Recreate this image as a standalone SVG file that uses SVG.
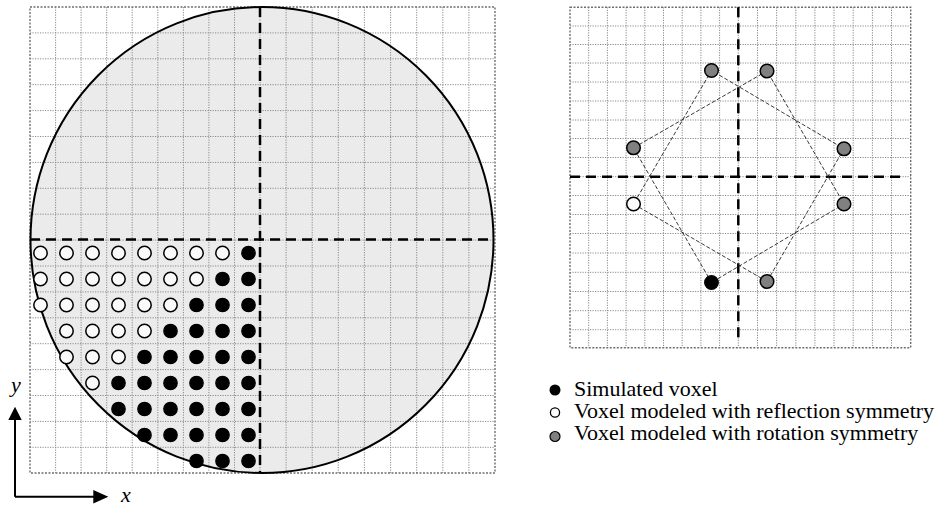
<svg xmlns="http://www.w3.org/2000/svg" width="938" height="508" viewBox="0 0 938 508">
<style>
.grid{fill:none;stroke:#8a8a8a;stroke-width:1;stroke-dasharray:1.2 1.3}
.border{fill:none;stroke:#6e6e6e;stroke-width:1.4;stroke-dasharray:2 1.5}
.axis{fill:none;stroke:#000;stroke-width:2.5;stroke-dasharray:10 6}
.sim{fill:#000;stroke:#000;stroke-width:1.3}
.ref{fill:#fafafa;stroke:#000;stroke-width:1.5}
.rot{fill:#808080;stroke:#000;stroke-width:1.5}
.link{fill:none;stroke:#222;stroke-width:0.9;stroke-dasharray:4 2}
.lbl{font-family:"Liberation Serif","Times New Roman",serif;font-size:22px;fill:#000}
.it{font-family:"Liberation Serif","Times New Roman",serif;font-size:22px;font-style:italic;fill:#000}
</style>
<defs>
<circle id="d" r="6.7"/>
<circle id="rd" r="6.8"/>
</defs>

<g id="left-panel">
<ellipse cx="262" cy="240" rx="231.5" ry="233" fill="#ebebeb"/>
<path class="grid" d="M55.6 7V473M81.1 7V473M106.7 7V473M132.2 7V473M157.8 7V473M183.4 7V473M208.9 7V473M234.5 7V473M260 7V473M286.1 7V473M312.2 7V473M338.3 7V473M364.4 7V473M390.6 7V473M416.7 7V473M442.8 7V473M468.9 7V473M30 32.9H495M30 58.8H495M30 84.7H495M30 110.6H495M30 136.5H495M30 162.4H495M30 188.3H495M30 214.2H495M30 240.1H495M30 266H495M30 291.9H495M30 317.8H495M30 343.7H495M30 369.6H495M30 395.5H495M30 421.4H495M30 447.3H495"/>
<rect class="border" x="30" y="7" width="465" height="466"/>
<ellipse cx="262" cy="240" rx="231.5" ry="233" fill="none" stroke="#000" stroke-width="2"/>
<path class="axis" d="M260 7V473M30 239.5H493"/>
</g>

<g id="left-voxels">
<g id="row0"><use href="#d" class="ref" x="40.5" y="253"/><use href="#d" class="ref" x="66.5" y="253"/><use href="#d" class="ref" x="92.5" y="253"/><use href="#d" class="ref" x="118.5" y="253"/><use href="#d" class="ref" x="144.5" y="253"/><use href="#d" class="ref" x="170.5" y="253"/><use href="#d" class="ref" x="196.5" y="253"/><use href="#d" class="ref" x="222.5" y="253"/><use href="#d" class="sim" x="248.5" y="253"/></g>
<g id="row1"><use href="#d" class="ref" x="40.5" y="279"/><use href="#d" class="ref" x="66.5" y="279"/><use href="#d" class="ref" x="92.5" y="279"/><use href="#d" class="ref" x="118.5" y="279"/><use href="#d" class="ref" x="144.5" y="279"/><use href="#d" class="ref" x="170.5" y="279"/><use href="#d" class="ref" x="196.5" y="279"/><use href="#d" class="sim" x="222.5" y="279"/><use href="#d" class="sim" x="248.5" y="279"/></g>
<g id="row2"><use href="#d" class="ref" x="40.5" y="305"/><use href="#d" class="ref" x="66.5" y="305"/><use href="#d" class="ref" x="92.5" y="305"/><use href="#d" class="ref" x="118.5" y="305"/><use href="#d" class="ref" x="144.5" y="305"/><use href="#d" class="ref" x="170.5" y="305"/><use href="#d" class="sim" x="196.5" y="305"/><use href="#d" class="sim" x="222.5" y="305"/><use href="#d" class="sim" x="248.5" y="305"/></g>
<g id="row3"><use href="#d" class="ref" x="66.5" y="331"/><use href="#d" class="ref" x="92.5" y="331"/><use href="#d" class="ref" x="118.5" y="331"/><use href="#d" class="ref" x="144.5" y="331"/><use href="#d" class="sim" x="170.5" y="331"/><use href="#d" class="sim" x="196.5" y="331"/><use href="#d" class="sim" x="222.5" y="331"/><use href="#d" class="sim" x="248.5" y="331"/></g>
<g id="row4"><use href="#d" class="ref" x="66.5" y="357"/><use href="#d" class="ref" x="92.5" y="357"/><use href="#d" class="ref" x="118.5" y="357"/><use href="#d" class="sim" x="144.5" y="357"/><use href="#d" class="sim" x="170.5" y="357"/><use href="#d" class="sim" x="196.5" y="357"/><use href="#d" class="sim" x="222.5" y="357"/><use href="#d" class="sim" x="248.5" y="357"/></g>
<g id="row5"><use href="#d" class="ref" x="92.5" y="383"/><use href="#d" class="sim" x="118.5" y="383"/><use href="#d" class="sim" x="144.5" y="383"/><use href="#d" class="sim" x="170.5" y="383"/><use href="#d" class="sim" x="196.5" y="383"/><use href="#d" class="sim" x="222.5" y="383"/><use href="#d" class="sim" x="248.5" y="383"/></g>
<g id="row6"><use href="#d" class="sim" x="118.5" y="409"/><use href="#d" class="sim" x="144.5" y="409"/><use href="#d" class="sim" x="170.5" y="409"/><use href="#d" class="sim" x="196.5" y="409"/><use href="#d" class="sim" x="222.5" y="409"/><use href="#d" class="sim" x="248.5" y="409"/></g>
<g id="row7"><use href="#d" class="sim" x="144.5" y="435"/><use href="#d" class="sim" x="170.5" y="435"/><use href="#d" class="sim" x="196.5" y="435"/><use href="#d" class="sim" x="222.5" y="435"/><use href="#d" class="sim" x="248.5" y="435"/></g>
<g id="row8"><use href="#d" class="sim" x="196.5" y="461"/><use href="#d" class="sim" x="222.5" y="461"/><use href="#d" class="sim" x="248.5" y="461"/></g>
</g>

<g id="xy-axes">
<path d="M15 496.7V418M15 496.7H95" fill="none" stroke="#000" stroke-width="2"/>
<path d="M15 406.7L8.3 420H21.7Z M108.3 496.7L93.3 490V503.4Z" fill="#000"/>
<text class="it" x="11" y="391.5">y</text>
<text class="it" x="121" y="501.5">x</text>
</g>

<g id="right-panel">
<path class="grid" d="M588.7 7.3V347.7M607.4 7.3V347.7M626.1 7.3V347.7M644.8 7.3V347.7M663.5 7.3V347.7M682.2 7.3V347.7M700.9 7.3V347.7M719.6 7.3V347.7M738.3 7.3V347.7M757.5 7.3V347.7M776.6 7.3V347.7M795.8 7.3V347.7M814.9 7.3V347.7M834 7.3V347.7M853.2 7.3V347.7M872.4 7.3V347.7M891.5 7.3V347.7M570 26H910.7M570 44.5H910.7M570 63H910.7M570 82H910.7M570 101H910.7M570 120H910.7M570 138.5H910.7M570 157.5H910.7M570 176.7H910.7M570 195.5H910.7M570 214.5H910.7M570 233.5H910.7M570 253H910.7M570 272.3H910.7M570 291.5H910.7M570 310.7H910.7M570 329.7H910.7"/>
<rect class="border" x="570" y="7.3" width="340.7" height="340.4"/>
<path class="axis" d="M738.3 7.3V343.3M570 176.7H903.3"/>
</g>

<g id="connectors">
<path class="link" d="M711.5 282.5L633.5 147.8L767 71L844 204Z"/>
<path class="link" d="M767 281.5L633.5 204L711.5 70.5L844 148.8Z"/>
</g>

<g id="voxel-A-simulated"><use href="#rd" class="sim" x="711.5" y="282.5"/></g>
<g id="voxel-B"><use href="#rd" class="rot" x="767" y="281.5"/></g>
<g id="voxel-C"><use href="#rd" class="rot" x="844" y="204"/></g>
<g id="voxel-D"><use href="#rd" class="rot" x="844" y="148.8"/></g>
<g id="voxel-E"><use href="#rd" class="rot" x="767" y="71"/></g>
<g id="voxel-F"><use href="#rd" class="rot" x="711.5" y="70.5"/></g>
<g id="voxel-G"><use href="#rd" class="rot" x="633.5" y="147.8"/></g>
<g id="voxel-H-reflected"><use href="#rd" class="ref" x="633.5" y="204"/></g>

<g id="legend">
<circle cx="555" cy="390" r="5.5" fill="#000"/>
<circle cx="555" cy="412.5" r="4.6" fill="#fff" stroke="#000" stroke-width="1.3"/>
<circle cx="555" cy="436.5" r="5" fill="#808080" stroke="#000" stroke-width="1.2"/>
<text class="lbl" x="574" y="396">Simulated voxel</text>
<text class="lbl" x="574" y="418">Voxel modeled with reflection symmetry</text>
<text class="lbl" x="574" y="440">Voxel modeled with rotation symmetry</text>
</g>
</svg>
